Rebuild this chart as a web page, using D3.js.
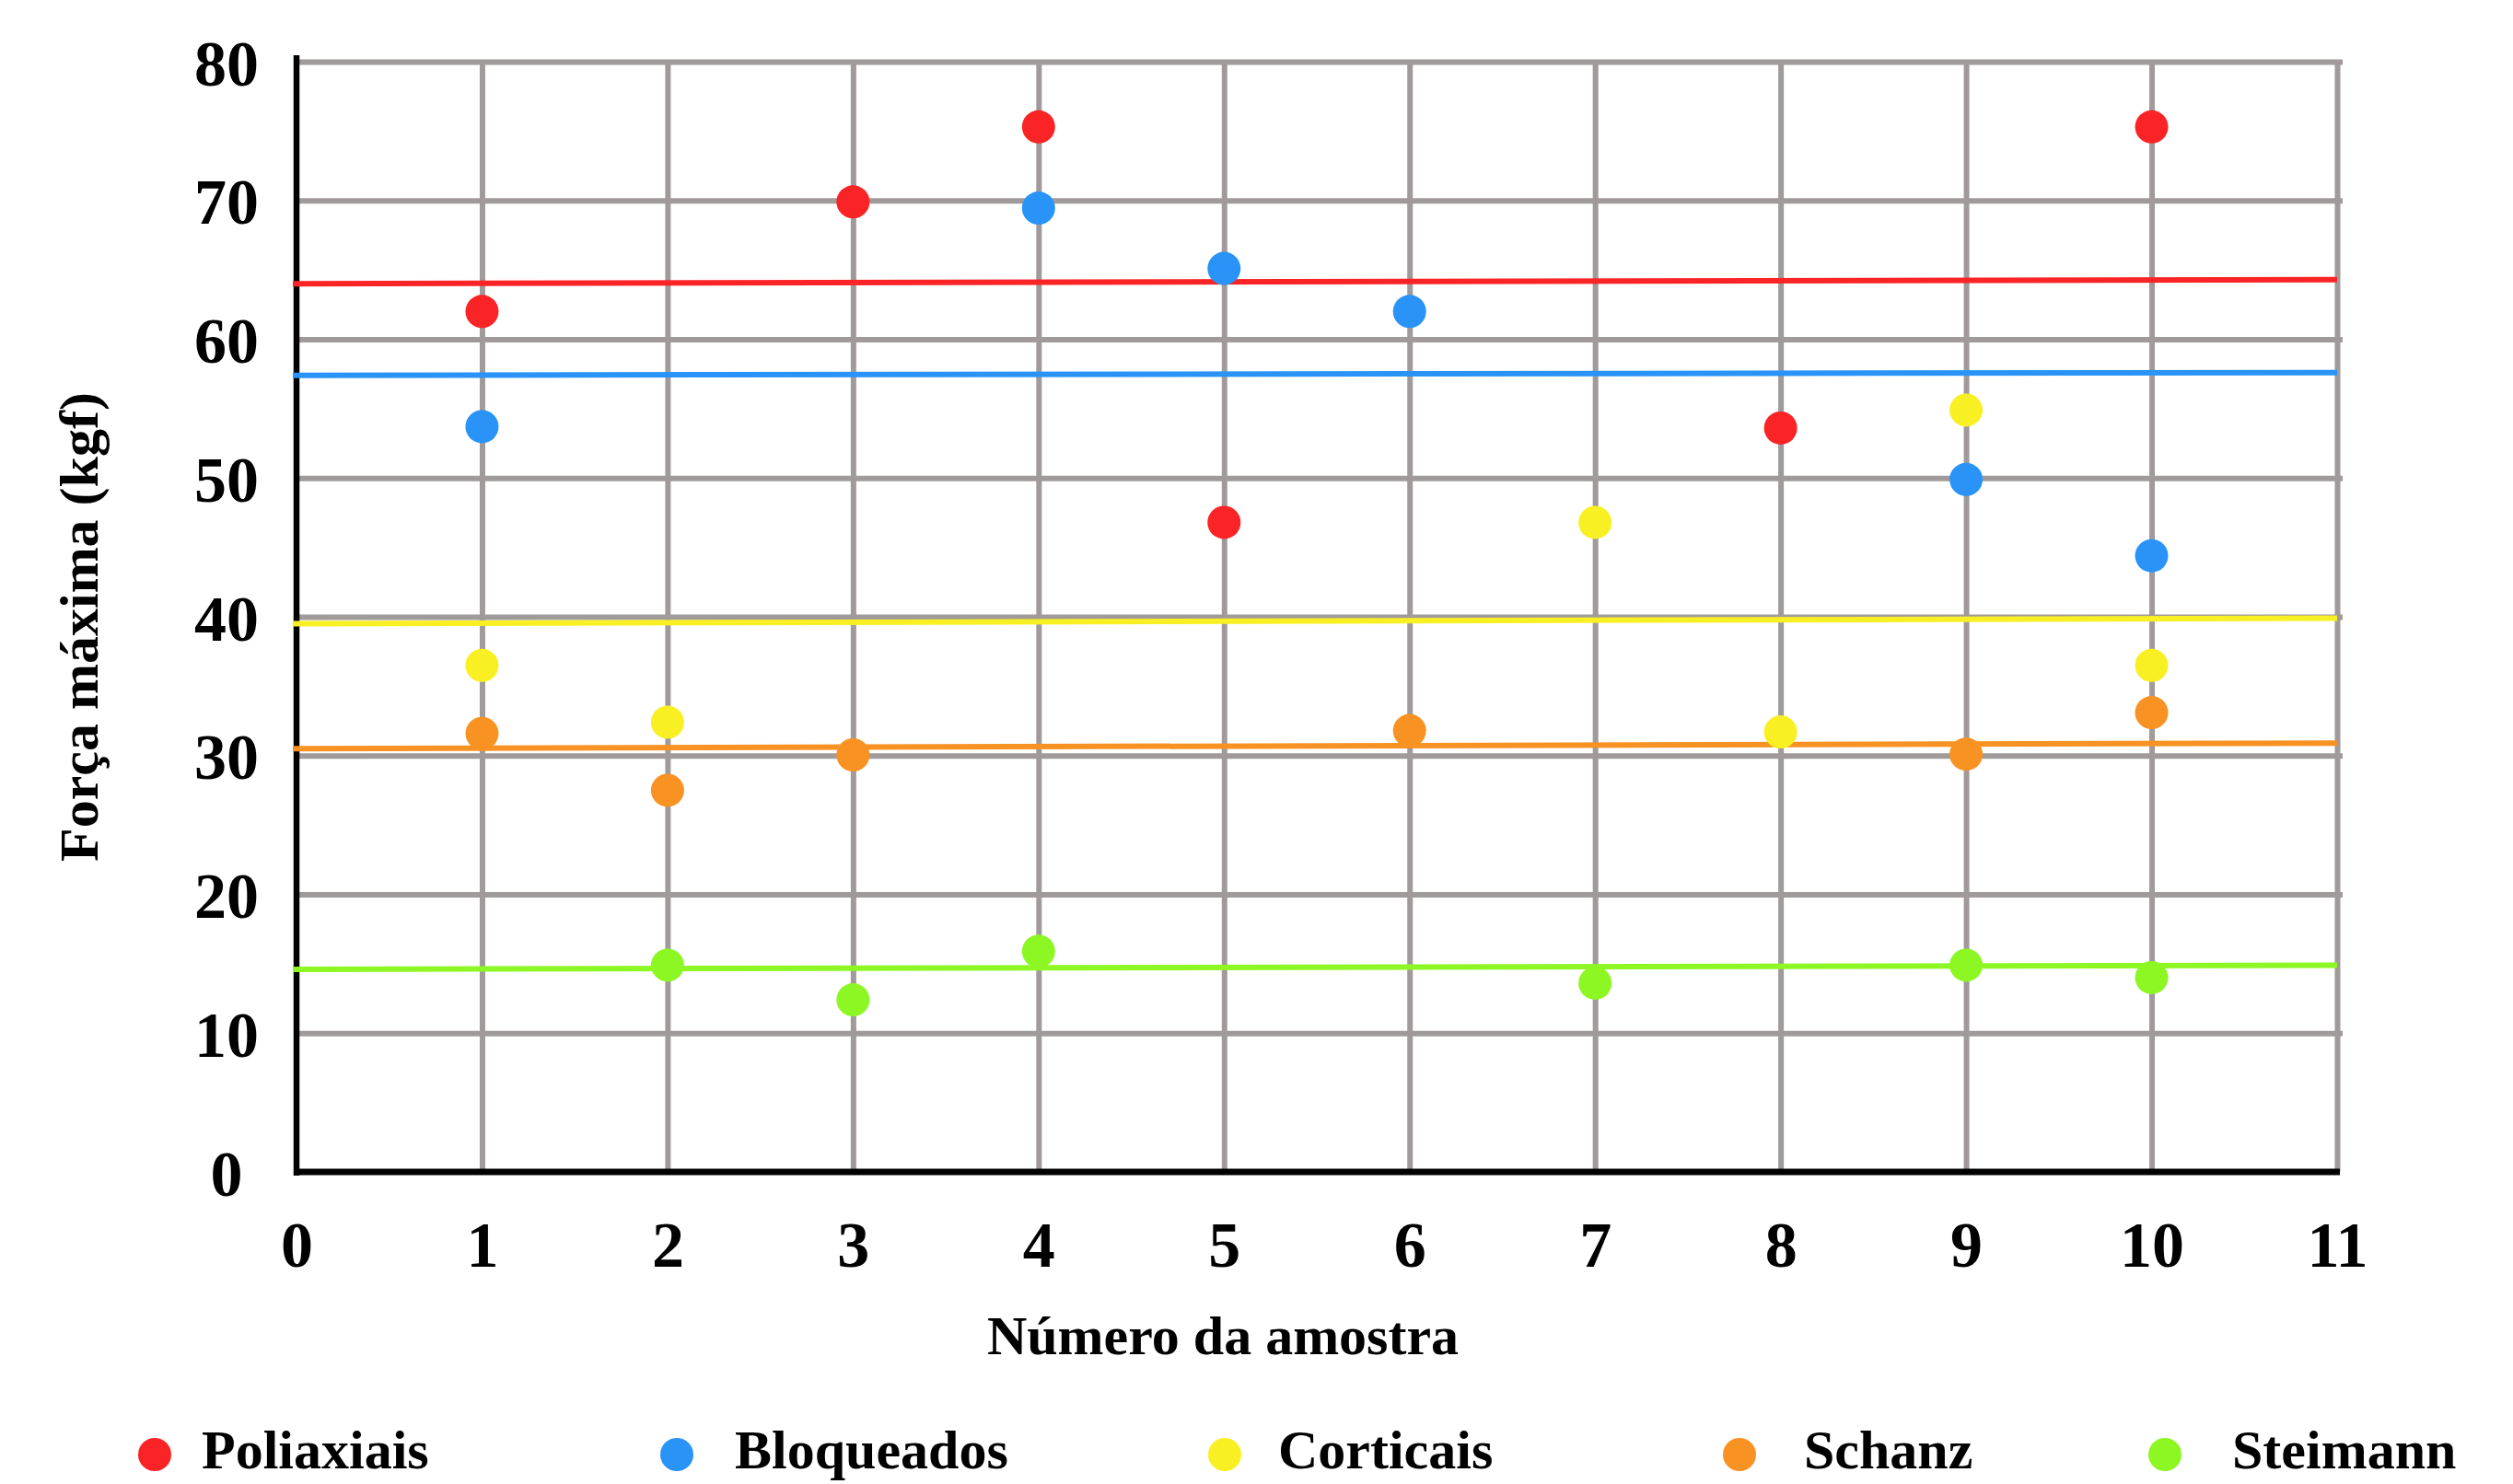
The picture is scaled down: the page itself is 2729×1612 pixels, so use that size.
<!DOCTYPE html>
<html>
<head>
<meta charset="utf-8">
<script src="https://cdn.jsdelivr.net/npm/d3@7"></script>
<style>
  html, body { margin: 0; padding: 0; background: #ffffff; }
  svg { display: block; }
  text { font-family: "Liberation Serif", "Times New Roman", "DejaVu Serif", serif; font-weight: bold; fill: #000; }
</style>
</head>
<body>
<svg id="chart" width="2729" height="1612"></svg>
<script>
// ---------- data ----------
const samples = [1, 2, 3, 4, 5, 6, 7, 8, 9, 10];
const xTicks = [0, 1, 2, 3, 4, 5, 6, 7, 8, 9, 10, 11];
const yTicks = [0, 10, 20, 30, 40, 50, 60, 70, 80];
const seriesNames = ["Poliaxiais", "Bloqueados", "Corticais", "Schanz", "Steimann"];
const seriesColors = ["#FA2325", "#2993F7", "#F9F023", "#F89223", "#8DF724"];
const poliaxiais = [62.0, null, 69.9, 75.3, 46.8, null, null, 53.6, null, 75.3];
const bloqueados = [53.7, null, null, 69.45, 65.1, 62.0, null, null, 49.9, 44.4];
const corticais  = [36.5, 32.4, null, null, null, null, 46.8, 31.7, 54.9, 36.5];
const schanz     = [31.6, 27.5, 30.05, null, null, 31.8, null, null, 30.1, 33.1];
const steimann   = [null, 14.9, 12.4, 15.9, null, null, 13.6, null, 14.9, 14.0];
// mean lines (value at left edge, value at right edge)
const meanLeft  = [64.0, 57.4, 39.5, 30.5, 14.6];
const meanRight = [64.3, 57.6, 39.9, 30.9, 14.9];
const xTitle = "Número da amostra";
const yTitle = "Força máxima (kgf)";

const seriesValues = [poliaxiais, bloqueados, corticais, schanz, steimann];

(function () {
// ---------- layout ----------
const svg = d3.select("#chart");
const pLeft = 322, pRight = 2538, pTop = 67, pBottom = 1273;
const plotW = pRight - pLeft, plotH = pBottom - pTop;
const gridColor = "#A09A9A";

const x = d3.scaleLinear().domain([0, 11]).range([pLeft, pRight]);
const y = d3.scaleLinear().domain([0, 80]).range([pBottom, pTop]);

// horizontal gridlines + y tick labels
const gy = svg.append("g")
  .attr("transform", `translate(${pLeft},0)`)
  .call(d3.axisLeft(y).tickValues(yTicks).tickSizeOuter(0).tickSizeInner(0).tickFormat(d3.format("d")));
gy.select(".domain").remove();
gy.selectAll(".tick line")
  .attr("x1", 0).attr("x2", d => d === 0 ? 0 : plotW + 6)
  .attr("stroke", gridColor).attr("stroke-width", 6);
gy.selectAll(".tick text")
  .attr("x", -76).attr("dy", "0.36em")
  .attr("text-anchor", "middle")
  .style("font-size", "70px");

// vertical gridlines + x tick labels
const gx = svg.append("g")
  .attr("transform", `translate(0,${pBottom})`)
  .call(d3.axisBottom(x).tickValues(xTicks).tickSizeOuter(0).tickSizeInner(-plotH).tickFormat(d3.format("d")));
gx.select(".domain").remove();
gx.selectAll(".tick line")
  .attr("stroke", d => d === 0 ? "none" : gridColor)
  .attr("stroke-width", 6);
gx.selectAll(".tick text")
  .attr("y", 103).attr("dy", 0)
  .attr("text-anchor", "middle")
  .style("font-size", "70px");

// black axes
svg.append("line")
  .attr("x1", x(0)).attr("x2", x(0))
  .attr("y1", y(80) - 7).attr("y2", y(0) + 4)
  .attr("stroke", "#000").attr("stroke-width", 6.5);
svg.append("line")
  .attr("x1", x(0) - 3).attr("x2", x(11) + 3)
  .attr("y1", y(0)).attr("y2", y(0))
  .attr("stroke", "#000").attr("stroke-width", 7);

// mean lines
svg.append("g").selectAll("line")
  .data(seriesNames.map((n, i) => ({ i, a: meanLeft[i], b: meanRight[i] })))
  .join("line")
  .attr("x1", x(0) - 4).attr("x2", x(11))
  .attr("y1", d => y(d.a)).attr("y2", d => y(d.b))
  .attr("stroke", d => seriesColors[d.i])
  .attr("stroke-width", 6);

// points
const pts = [];
seriesValues.forEach((vals, si) => {
  vals.forEach((v, k) => { if (v !== null) pts.push({ si, s: samples[k], v }); });
});
svg.append("g").selectAll("circle")
  .data(pts)
  .join("circle")
  .attr("cx", d => x(d.s))
  .attr("cy", d => y(d.v))
  .attr("r", 18)
  .attr("fill", d => seriesColors[d.si]);

// axis titles
svg.append("text")
  .attr("x", 1328).attr("y", 1471)
  .attr("text-anchor", "middle")
  .style("font-size", "60px")
  .text(xTitle);
svg.append("text")
  .attr("transform", "translate(106,681) rotate(-90)")
  .attr("text-anchor", "middle")
  .style("font-size", "60px")
  .text(yTitle);

// legend
const legendMarkX = [168, 735, 1330, 1889, 2351];
const legendTextX = [219, 798, 1388, 1959, 2424];
const lg = svg.append("g").selectAll("g")
  .data(seriesNames.map((n, i) => ({ n, i })))
  .join("g");
lg.append("circle")
  .attr("cx", d => legendMarkX[d.i]).attr("cy", 1580)
  .attr("r", 18)
  .attr("fill", d => seriesColors[d.i]);
lg.append("text")
  .attr("x", d => legendTextX[d.i]).attr("y", 1595)
  .style("font-size", "60px")
  .text(d => d.n);
})();
</script>
</body>
</html>
